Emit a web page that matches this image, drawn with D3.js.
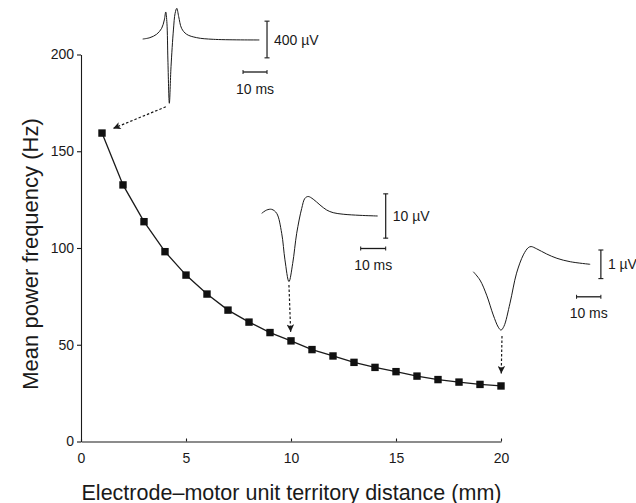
<!DOCTYPE html>
<html>
<head>
<meta charset="utf-8">
<script src="https://cdn.jsdelivr.net/npm/d3@7"></script>
<style>
  html, body { margin: 0; padding: 0; background: #fff; }
  svg { display: block; }
  text { font-family: "Liberation Sans", Arial, Helvetica, sans-serif; fill: #1a1a1a; }
</style>
</head>
<body>
<svg id="chart" width="636" height="503"></svg>
<script>
// Mean power frequency vs. electrode–motor unit territory distance
const distance = [1, 2, 3, 4, 5, 6, 7, 8, 9, 10, 11, 12, 13, 14, 15, 16, 17, 18, 19, 20];
const meanPowerFreq = [159.4, 132.6, 113.6, 98.1, 86.0, 76.2, 67.9, 61.7, 56.3, 52.0,
                       47.5, 44.2, 40.9, 38.3, 36.1, 33.8, 32.0, 30.7, 29.5, 28.7];
const xTicks = [0, 5, 10, 15, 20];
const yTicks = [0, 50, 100, 150, 200];
const xTitle = "Electrode\u2013motor unit territory distance (mm)";
const yTitle = "Mean power frequency (Hz)";

// Motor unit action potentials recorded at 1, 10 and 20 mm (time in ms, amplitude in µV)
const wave1mmTime = [0, 3, 5.8, 7.9, 9.0, 9.6, 10.1, 10.5, 11.1, 11.8, 12.8, 13.5, 14.2, 15, 16.2, 18.3, 22.5, 29.4, 48.6];
const wave1mmAmp  = [5, 20, 57, 122, 213, 300, 177, -223, -695, -296, 104, 285, 340, 249, 122, 57, 20, 2, -5];
const wave10mmTime = [0, 2, 4, 6, 8, 9.3, 10.9, 12.4, 14, 16, 17.3, 18.6, 20.6, 23.3, 26, 28.6, 32.6, 39.3, 46.4];
const wave10mmAmp  = [0.6, 1.35, 1.5, 0.6, -3.9, -9.9, -14.8, -10.7, -3.9, 1.7, 4.0, 4.4, 3.8, 2.5, 1.35, 0.75, 0.4, 0.15, 0];
const wave20mmTime = [0, 2.74, 5.5, 8.2, 10.3, 11.4, 12.6, 15.1, 17.8, 20.6, 22.6, 23.8, 26.1, 30.2, 34.4, 39.9, 48.1];
const wave20mmAmp  = [-0.26, -0.55, -1.08, -1.77, -2.2, -2.3, -2.17, -1.36, -0.31, 0.33, 0.58, 0.62, 0.54, 0.36, 0.21, 0.09, 0];
const waveDistance = [1, 10, 20];
const ampBarValue = [400, 10, 1];
const ampBarLabel = ["400 \u00b5V", "10 \u00b5V", "1 \u00b5V"];
const timeBarValue = [10, 10, 10];
const timeBarLabel = ["10 ms", "10 ms", "10 ms"];

const ink = "#1a1a1a";
const svg = d3.select("#chart");

const x = d3.scaleLinear().domain([0, 20]).range([81, 501]);
const y = d3.scaleLinear().domain([0, 200]).range([441.5, 54.5]);

// Axes
const yAxis = svg.append("g").attr("transform", `translate(${x(0)},0)`)
  .call(d3.axisLeft(y).tickValues(yTicks).tickSizeInner(4).tickSizeOuter(0).tickPadding(3));
const xAxis = svg.append("g").attr("transform", `translate(0,${y(0)})`)
  .call(d3.axisBottom(x).tickValues(xTicks).tickSizeInner(-3).tickSizeOuter(0).tickPadding(12));
[xAxis, yAxis].forEach(g => {
  g.selectAll("path, line").attr("stroke", ink).attr("stroke-width", 1.1);
  g.selectAll("text").attr("font-size", 14).attr("fill", ink)
    .style("font-family", '"Liberation Sans", Arial, sans-serif');
});

svg.append("text").attr("x", (x(0) + x(20)) / 2 + 0.5).attr("y", 499.5)
  .attr("text-anchor", "middle").attr("font-size", 21.5)
  .attr("textLength", 420).attr("lengthAdjust", "spacing").text(xTitle);
svg.append("text").attr("transform", "translate(38,254) rotate(-90)")
  .attr("text-anchor", "middle").attr("font-size", 22).text(yTitle);

// Data line and square markers
const pts = distance.map((d, i) => ({ d, v: meanPowerFreq[i] }));
svg.append("path").datum(pts)
  .attr("fill", "none").attr("stroke", ink).attr("stroke-width", 1.3)
  .attr("d", d3.line().x(p => x(p.d)).y(p => y(p.v)));
svg.selectAll("rect.pt").data(pts).join("rect").attr("class", "pt")
  .attr("x", p => x(p.d) - 3.7).attr("y", p => y(p.v) - 3.7)
  .attr("width", 7.4).attr("height", 7.4).attr("fill", "#111");

// Inset waveforms, each with its own time/amplitude scales
const insets = [
  { t: wave1mmTime,  a: wave1mmAmp,  x0: 142.7, y0: 39.5,  msPx: 2.4,  uvPx: 0.09175, barT: 51.8, gapTail: [-3.5, 3.5], gapTip: 12 },
  { t: wave10mmTime, a: wave10mmAmp, x0: 261.7, y0: 216,   msPx: 2.5,  uvPx: 4.43,    barT: 49.6, gapTail: [0, 3.5],    gapTip: 9 },
  { t: wave20mmTime, a: wave20mmAmp, x0: 473.3, y0: 264.3, msPx: 2.43, uvPx: 28.6,    barT: 52.5, gapTail: [1, 6],      gapTip: 12.5 }
];

const defs = svg.append("defs");
defs.append("marker").attr("id", "arrowhead")
  .attr("viewBox", "0 0 10 10").attr("refX", 10).attr("refY", 5)
  .attr("markerWidth", 9).attr("markerHeight", 7.5).attr("markerUnits", "userSpaceOnUse")
  .attr("orient", "auto")
  .append("path").attr("d", "M0,0 L10,5 L0,10 L2.5,5 Z").attr("fill", ink);

insets.forEach((ins, k) => {
  const tx = d3.scaleLinear().domain([0, 1]).range([ins.x0, ins.x0 + ins.msPx]);
  const ay = d3.scaleLinear().domain([0, 1]).range([ins.y0, ins.y0 - ins.uvPx]);
  const g = svg.append("g");
  const wp = ins.t.map((t, i) => [t, ins.a[i]]);
  g.append("path").datum(wp)
    .attr("fill", "none").attr("stroke", ink).attr("stroke-width", 1)
    .attr("d", d3.line().x(p => tx(p[0])).y(p => ay(p[1])).curve(d3.curveCatmullRom.alpha(0.5)));

  // Amplitude scale bar
  const bx = tx(ins.barT);
  const half = ampBarValue[k] / 2;
  const yTop = ay(half), yBot = ay(-half);
  g.append("line").attr("x1", bx).attr("x2", bx).attr("y1", yTop).attr("y2", yBot)
    .attr("stroke", ink).attr("stroke-width", 1.2);
  [yTop, yBot].forEach(yy => g.append("line").attr("x1", bx - 2.5).attr("x2", bx + 2.5)
    .attr("y1", yy).attr("y2", yy).attr("stroke", ink).attr("stroke-width", 1.1));
  g.append("text").attr("x", bx + 7).attr("y", (yTop + yBot) / 2 + 5)
    .attr("font-size", 14).text(ampBarLabel[k]);

  // Time scale bar
  const x1 = tx(ins.barT - timeBarValue[k]), x2 = bx, hy = ins.y0 + 32.5;
  g.append("line").attr("x1", x1).attr("x2", x2).attr("y1", hy).attr("y2", hy)
    .attr("stroke", ink).attr("stroke-width", 1.3);
  [x1, x2].forEach(xx => g.append("line").attr("x1", xx).attr("x2", xx)
    .attr("y1", hy - 2).attr("y2", hy + 2).attr("stroke", ink).attr("stroke-width", 1));
  g.append("text").attr("x", (x1 + x2) / 2).attr("y", hy + 21.5)
    .attr("text-anchor", "middle").attr("font-size", 14).text(timeBarLabel[k]);

  // Dashed arrow from the waveform trough down to its data point
  const iMin = d3.minIndex(ins.a);
  const tail = [tx(ins.t[iMin]) + ins.gapTail[0], ay(ins.a[iMin]) + ins.gapTail[1]];
  const di = distance.indexOf(waveDistance[k]);
  const target = [x(distance[di]), y(meanPowerFreq[di])];
  const dx = target[0] - tail[0], dy = target[1] - tail[1];
  const len = Math.hypot(dx, dy);
  const tip = [target[0] - dx / len * ins.gapTip, target[1] - dy / len * ins.gapTip];
  g.append("line").attr("x1", tail[0]).attr("y1", tail[1]).attr("x2", tip[0]).attr("y2", tip[1])
    .attr("stroke", ink).attr("stroke-width", 1.2).attr("stroke-dasharray", "2.5,2")
    .attr("marker-end", "url(#arrowhead)");
});
</script>
</body>
</html>
